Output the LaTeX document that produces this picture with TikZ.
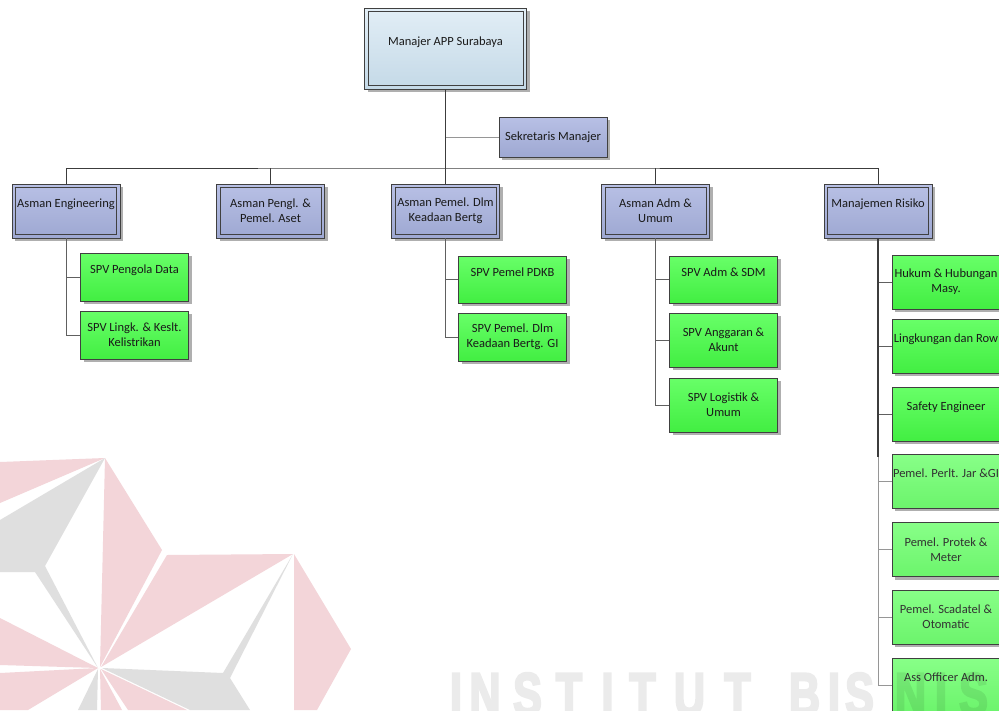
\documentclass[tikz,border=0pt]{standalone}
\usepackage{fontspec}
\setmainfont{Carlito}
\newfontfamily\wmfont{Liberation Sans}
\usetikzlibrary{shadows}
\definecolor{boxline}{RGB}{64,64,64}
\definecolor{txt}{RGB}{26,26,26}
\definecolor{txtlight}{RGB}{50,50,50}
\definecolor{shadowc}{RGB}{175,175,175}
\definecolor{lavT}{RGB}{184,192,229}
\definecolor{lavB}{RGB}{158,168,210}
\definecolor{bluT}{RGB}{226,238,246}
\definecolor{bluB}{RGB}{196,217,231}
\definecolor{grnT}{RGB}{104,255,104}
\definecolor{grnB}{RGB}{66,238,66}
\definecolor{lgrT}{RGB}{136,255,136}
\definecolor{lgrB}{RGB}{108,244,108}
\definecolor{pinkc}{RGB}{243,213,217}
\definecolor{grayc}{RGB}{223,223,223}
\definecolor{linedark}{RGB}{60,60,60}
\definecolor{linemid}{RGB}{96,96,96}
\definecolor{linelight}{RGB}{150,150,150}
\newcommand{\thickglyph}[1]{\special{pdf:literal direct 2 Tr 2.6 w}#1\special{pdf:literal direct 0 Tr}}
\tikzset{
  box/.style={draw=boxline, line width=0.8pt, minimum width=108pt, minimum height=54pt,
    inner xsep=0pt, inner ysep=2pt, align=center, font=\fontsize{12.5}{15}\selectfont, text=txt,
    drop shadow={shadow xshift=3pt, shadow yshift=-3pt, fill=shadowc, opacity=1}},
  dbl/.style={path picture={\draw[boxline, line width=0.7pt]
      ([xshift=3.5pt,yshift=-3.5pt]path picture bounding box.north west) rectangle
      ([xshift=-3.5pt,yshift=3.5pt]path picture bounding box.south east);}},
  mgrbox/.style={box, dbl, top color=bluT, bottom color=bluB, minimum width=162pt, minimum height=81pt},
  sekbox/.style={box, top color=lavT, bottom color=lavB, minimum height=40pt},
  asman/.style={box, dbl, top color=lavT, bottom color=lavB},
  spv/.style={box, top color=grnT, bottom color=grnB},
  spvl/.style={box, top color=lgrT, bottom color=lgrB, text=txtlight},
  trunk/.style={draw=linedark, line width=1.4pt},
  barline/.style={draw=linedark, line width=1pt},
  secline/.style={draw=linelight, line width=1pt},
  child/.style={draw=linemid, line width=0.9pt},
  childl/.style={draw=linelight, line width=0.9pt},
  wm/.style={anchor=base, inner sep=0pt, text=black,
    font=\wmfont\bfseries\fontsize{60}{60}\selectfont},
}
\begin{document}
\begin{tikzpicture}[x=1pt,y=-1pt]
\clip (0,0) rectangle (999,710);
\fill[white] (0,0) rectangle (999,710);

% top
\node[mgrbox] (mgr) at (445.5,48.5) {Manajer APP Surabaya\\\mbox{}};
\node[sekbox] (sek) at (553,137) {Sekretaris Manajer};
\coordinate (bar) at (445.5,168);

% asman row
\node[asman] (asE) at (66,211) {Asman Engineering\\\mbox{}};
\node[asman] (asP) at (270.5,211) {Asman Pengl. \&\\Pemel. Aset};
\node[asman] (asD) at (445.5,211) {Asman Pemel. Dlm\\Keadaan Bertg};
\node[asman] (asA) at (655.5,211) {Asman Adm \&\\Umum};
\node[asman] (mr) at (878,211) {Manajemen Risiko\\\mbox{}};

% SPV
\node[spv, minimum height=48pt] (spvPD) at (134.5,277) {SPV Pengola Data\\\mbox{}};
\node[spv, minimum height=48pt] (spvLK) at (134.5,335) {SPV Lingk. \& Keslt.\\Kelistrikan};
\node[spv, minimum height=47pt] (spvPK) at (512.5,279.5) {SPV Pemel PDKB\\\mbox{}};
\node[spv, minimum height=48pt] (spvGI) at (512.5,337) {SPV Pemel. Dlm\\Keadaan Bertg. GI};
\node[spv, minimum height=47pt] (spvAS) at (723.5,279.5) {SPV Adm \& SDM\\\mbox{}};
\node[spv] (spvAK) at (723.5,340) {SPV Anggaran \&\\Akunt};
\node[spv] (spvLU) at (723.5,405) {SPV Logistik \&\\Umum};

% Manajemen Risiko children
\node[spv] (hk) at (946,282) {Hukum \& Hubungan\\Masy.};
\node[spv] (lk) at (946,346) {Lingkungan dan Row\\\mbox{}};
\node[spv] (sf) at (946,414) {Safety Engineer\\\mbox{}};
\node[spvl] (pp) at (946,481) {Pemel. Perlt. Jar \&GI\\\mbox{}};
\node[spvl] (pt) at (946,549.5) {Pemel. Protek \&\\Meter};
\node[spvl] (ps) at (946,617) {Pemel. Scadatel \&\\Otomatic};
\node[spvl] (ao) at (946,685) {Ass Officer Adm.\\\mbox{}};

% connectors
\draw[secline] (sek.west) -- (sek.west -| mgr.south);
\draw[trunk] (mgr.south) -- (bar);
\draw[barline] (asE.north) |- (bar) -| (mr.north);
\draw[barline] (asP.north) -- (asP.north |- bar);
\draw[barline] (asD.north) -- (bar);
\draw[barline] (asA.north) -- (asA.north |- bar);

\draw[child] (asE.south) |- (spvPD.west);
\draw[child] (asE.south) |- (spvLK.west);
\draw[child] (asD.south) |- (spvPK.west);
\draw[child] (asD.south) |- (spvGI.west);
\draw[child] (asA.south) |- (spvAS.west);
\draw[child] (asA.south) |- (spvAK.west);
\draw[child] (asA.south) |- (spvLU.west);

\coordinate (mrmid) at (878,457);
\draw[childl] (mr.south) |- (ao.west);
\draw[childl] (mr.south) |- (ps.west);
\draw[childl] (mr.south) |- (pt.west);
\draw[childl] (mr.south) |- (pp.west);
\draw[child] (mr.south) |- (hk.west);
\draw[child] (mr.south) |- (lk.west);
\draw[child] (mr.south) |- (sf.west);
\draw[trunk] (mr.south) -- (mr.south |- mrmid);

% watermark logo
\fill[pinkc] (0,462) -- (105,458) -- (0,503) -- cycle;
\fill[grayc] (0,520) -- (105,458) -- (45,566) -- (98,668) -- (35,572) -- (0,572) -- cycle;
\fill[pinkc] (105,458) -- (162,550) -- (100,667) -- cycle;
\fill[pinkc] (0,618) -- (98,668) -- (0,665) -- cycle;
\fill[pinkc] (0,673) -- (98,668) -- (28,710) -- (0,710) -- cycle;
\fill[grayc] (98,669) -- (78,710) -- (97,710) -- cycle;
\fill[pinkc] (100,669) -- (101,710) -- (122,710) -- cycle;
\fill[pinkc] (101,669) -- (128,710) -- (187,710) -- cycle;
\fill[grayc] (102,668) -- (223,673) -- (293,554) -- (230,678) -- (250,710) -- (190,710) -- cycle;
\fill[pinkc] (167,555) -- (293,554) -- (101,667) -- cycle;
\fill[pinkc] (294,554) -- (351,649) -- (317,710) -- (294,710) -- cycle;

% watermark text (filled and stroked glyphs)
\begin{scope}[transparency group, opacity=0.08]
\foreach \ch/\cx [count=\k] in {I/456,N/485,S/527.5,T/569,I/607.5,T/642.5,U/689.5,T/737.5,B/804.5,I/834,S/859.5,N/910.5,I/941,S/973.5}{
  \node[wm] (wm\k) at (\cx,715) {\scalebox{0.72}[1]{\thickglyph{\ch}}};
}
\end{scope}
\end{tikzpicture}
\end{document}
